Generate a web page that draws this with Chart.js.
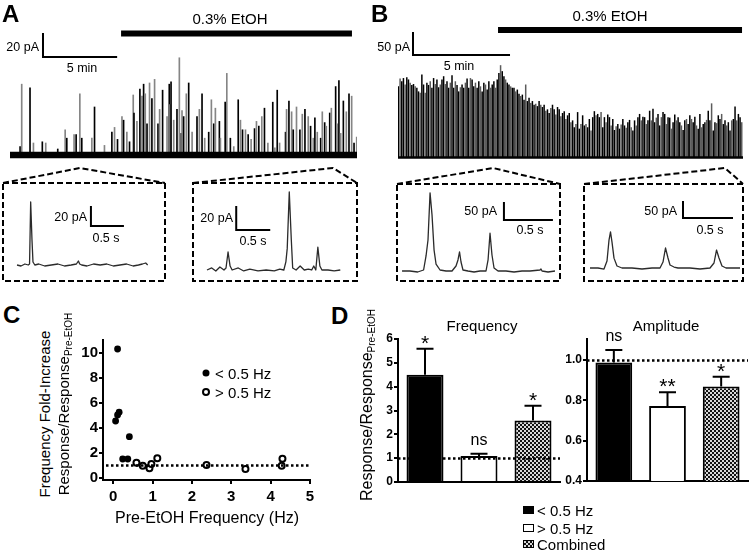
<!DOCTYPE html>
<html>
<head>
<meta charset="utf-8">
<title>EtOH sEPSC figure</title>
<script src="https://cdn.jsdelivr.net/npm/chart.js@4.4.1/dist/chart.umd.min.js"></script>
<style>
  html, body { margin: 0; padding: 0; background: #fff; }
  #fig { position: relative; width: 750px; height: 550px; overflow: hidden;
         font-family: "Liberation Sans", Arial, Helvetica, sans-serif; color: #000; }
  canvas { position: absolute; display: block; }
  svg { position: absolute; left: 0; top: 0; }
  .t { position: absolute; white-space: nowrap; line-height: 1; color: #000; }
  .c { transform: translate(-50%, -50%); }
  .l { transform: translate(0, -50%); }
  .r { transform: translate(-100%, -50%); }
  .v { width: 220px; height: 16px; margin-left: -110px; margin-top: -8px;
       text-align: center; transform: rotate(-90deg); }
  .pl { font-weight: bold; font-size: 24px; }
  .s12 { font-size: 12.5px; }
  .s15 { font-size: 15px; }
  .s16 { font-size: 16px; }
  sub { font-size: 10px; vertical-align: -3px; }
  .chk { background: repeating-conic-gradient(#111 0 25%, #d8d8d8 0 50%) 0 0 / 4px 4px; }
</style>
</head>
<body>
<div id="fig">
  <!-- zoom boxes + connectors -->
  <svg width="750" height="550">
    <g fill="none" stroke="#000" stroke-width="2" stroke-dasharray="6 3">
      <polyline points="3,183 80,168 165,183"/>
      <polyline points="193,183 333,168 357,183"/>
      <polyline points="397,184 493,168 560,184"/>
      <polyline points="584,184 725,168 743,184"/>
      <rect x="3" y="183" width="162" height="98"/>
      <rect x="193" y="183" width="164" height="98"/>
      <rect x="397" y="184" width="163" height="97"/>
      <rect x="584" y="184" width="159" height="97"/>
    </g>
  </svg>

  <canvas id="traceA" width="347" height="135" style="left:10px;top:25px"></canvas>
  <canvas id="traceB" width="345" height="140" style="left:398px;top:22px"></canvas>
  <canvas id="insA1" width="158" height="95" style="left:5px;top:185px"></canvas>
  <canvas id="insA2" width="161" height="95" style="left:195px;top:185px"></canvas>
  <canvas id="insB1" width="160" height="94" style="left:399px;top:186px"></canvas>
  <canvas id="insB2" width="156" height="94" style="left:586px;top:186px"></canvas>
  <canvas id="scatC" width="265" height="185" style="left:60px;top:330px"></canvas>
  <canvas id="barFreq" width="205" height="170" style="left:360px;top:330px"></canvas>
  <canvas id="barAmp" width="198" height="170" style="left:552px;top:330px"></canvas>

  <!-- panel letters -->
  <div class="t l pl" style="left:2px;top:14px">A</div>
  <div class="t l pl" style="left:371px;top:14px">B</div>
  <div class="t l pl" style="left:3px;top:315px">C</div>
  <div class="t l pl" style="left:331px;top:316px">D</div>

  <!-- A / B trace labels -->
  <div class="t c s15" style="left:230px;top:18px">0.3% EtOH</div>
  <div class="t r s12" style="left:39px;top:47px">20 pA</div>
  <div class="t c s12" style="left:82px;top:68px">5 min</div>
  <div class="t c s15" style="left:610px;top:15px">0.3% EtOH</div>
  <div class="t r s12" style="left:410px;top:47px">50 pA</div>
  <div class="t c s12" style="left:459px;top:66px">5 min</div>

  <!-- inset labels -->
  <div class="t r s12" style="left:87px;top:217px">20 pA</div>
  <div class="t c s12" style="left:106px;top:238px">0.5 s</div>
  <div class="t r s12" style="left:233px;top:218px">20 pA</div>
  <div class="t c s12" style="left:253px;top:241px">0.5 s</div>
  <div class="t r s12" style="left:497px;top:211px">50 pA</div>
  <div class="t c s12" style="left:530px;top:230px">0.5 s</div>
  <div class="t r s12" style="left:677px;top:211px">50 pA</div>
  <div class="t c s12" style="left:710px;top:230px">0.5 s</div>

  <!-- C text -->
  <div class="t v s15" style="left:45px;top:414px">Frequency Fold-Increase</div>
  <div class="t v s15" style="left:64px;top:404px">Response/Response<sub>Pre-EtOH</sub></div>
  <div class="t c s16" style="left:207px;top:518px">Pre-EtOH Frequency (Hz)</div>
  <div class="t c" style="left:206px;top:373px;width:7px;height:7px;border-radius:50%;background:#000"></div>
  <div class="t l s15" style="left:215px;top:373px">&lt; 0.5 Hz</div>
  <div class="t c" style="left:206px;top:392px;width:8px;height:8px;border-radius:50%;border:2px solid #000;box-sizing:border-box;background:#fff"></div>
  <div class="t l s15" style="left:215px;top:392px">&gt; 0.5 Hz</div>

  <!-- D text -->
  <div class="t v s16" style="left:367px;top:405px">Response/Response<sub>Pre-EtOH</sub></div>
  <div class="t c s15" style="left:482px;top:325px">Frequency</div>
  <div class="t c s15" style="left:666px;top:325px">Amplitude</div>
  <div class="t" style="left:523px;top:506px;width:11px;height:8px;background:#000"></div>
  <div class="t l s15" style="left:537px;top:510px">&lt; 0.5 Hz</div>
  <div class="t" style="left:523px;top:524px;width:11px;height:8px;border:1.5px solid #000;box-sizing:border-box;background:#fff"></div>
  <div class="t l s15" style="left:537px;top:528px">&gt; 0.5 Hz</div>
  <div class="t chk" style="left:523px;top:540px;width:11px;height:8px;border:1px solid #000;box-sizing:border-box"></div>
  <div class="t l s15" style="left:537px;top:543.5px">Combined</div>
</div>

<script>
// ── Data ──────────────────────────────────────────────────

// A: spontaneous events, time (min) and peak (pA)
const spikeTimesA = [0.68,0.79,1.35,1.58,2.18,2.41,3.22,3.72,3.83,4.32,
  4.46,4.71,4.84,5.52,5.70,6.37,6.87,7.05,7.25,7.55,
  7.66,7.88,8.06,8.31,8.36,8.56,8.76,8.90,9.01,9.12,
  9.24,9.41,9.57,9.75,9.98,10.09,10.29,10.59,10.74,10.79,
  10.86,11.04,11.26,11.42,11.55,11.60,11.71,11.89,12.05,12.28,
  12.61,12.77,12.95,13.13,13.40,13.58,13.74,13.85,14.12,14.19,
  14.51,14.62,14.86,15.09,15.39,15.54,15.68,15.88,16.06,16.26,
  16.49,16.62,16.78,16.98,17.16,17.39,17.72,17.86,18.02,18.18,
  18.58,18.65,18.81,18.99,19.10,19.32,19.55,19.71,19.89,20.11,
  20.27,20.45,20.56,20.72,20.95,21.06,21.22,21.33,21.56,21.67,
  21.96,22.07,22.18,22.30,22.48,22.68,22.86,23.04,23.20,23.38];
const spikeAmpsA = [7,59,56,10,11,10,5,21,14,17,
  17,51,14,14,40,8,19,23,13,32,
  29,19,11,50,35,28,55,49,59,51,
  26,60,47,63,26,38,54,32,59,42,
  61,29,38,81,18,37,32,51,60,19,
  32,38,51,14,19,46,26,39,28,14,
  44,68,14,7,46,29,21,21,17,13,
  22,28,24,32,39,10,44,6,54,10,
  19,38,45,36,21,40,21,34,38,32,
  24,14,31,19,14,36,27,24,35,39,
  57,26,62,18,45,36,51,49,10,15];

// B: event peaks in recording order (pA)
const spikeAmpsB = [154,171,165,172,158,174,169,162,157,159,
  154,151,143,140,180,158,140,162,157,165,
  151,172,159,169,152,158,169,176,159,165,
  151,162,178,151,165,157,143,152,158,151,
  162,171,151,172,169,154,162,151,165,154,
  143,162,158,147,165,151,158,165,151,169,
  183,200,187,176,169,162,158,154,151,151,
  143,147,138,133,136,125,158,122,129,118,
  122,114,116,111,122,114,109,114,101,104,
  96,107,114,104,93,109,104,89,96,100,
  83,91,96,76,80,65,72,98,62,72,
  91,69,72,65,83,58,87,100,91,94,
  87,98,65,87,76,93,87,69,83,59,
  67,72,62,71,83,69,64,76,81,65,
  58,80,69,87,94,80,88,87,72,80,
  101,80,105,76,86,94,69,87,98,94,
  72,87,86,62,76,93,80,87,76,69,
  59,80,83,72,91,83,76,88,69,62,
  94,65,72,76,81,101,80,117,58,76,
  74,91,83,94,72,80,69,76,58,80,
  83,110,80,94,87,76];

// insets: time (s) and current (pA)
const insA1Time = [0,0.06,0.12,0.17,0.19,0.207,0.227,0.242,0.27,0.33,0.42,0.52,0.62,0.72,0.82,0.9,0.93,0.95,0.98,1.06,1.16,1.26,1.36,1.46,1.56,1.66,1.76,1.84,1.9,1.95,1.98];
const insA1Amp  = [0,-1,1,0,1,63,25,3,0,1,-1,0,1,-1,0,1,4,1,0,-1,1,0,1,-1,0,1,-1,0,1,2,0];
const insA2Time = [0,0.07,0.13,0.19,0.25,0.28,0.31,0.34,0.37,0.46,0.54,0.63,0.75,0.87,0.99,1.07,1.13,1.16,1.18,1.21,1.24,1.26,1.31,1.37,1.43,1.49,1.54,1.57,1.6,1.63,1.66,1.69,1.78,1.87,1.96];
const insA2Amp  = [0,1.7,-0.8,2.5,0,1.7,15,3.3,0,1.7,-0.8,0.8,-0.8,0,-0.8,0.8,0,6.7,18,65,25,1.7,0,3.3,0,0.8,0,3.3,0,19,3.3,0,0,-0.8,0];
const insB1Time = [0,0.08,0.16,0.22,0.245,0.265,0.286,0.306,0.327,0.347,0.388,0.449,0.51,0.551,0.571,0.587,0.602,0.622,0.673,0.735,0.796,0.857,0.878,0.898,0.918,0.939,0.98,1.061,1.143,1.224,1.306,1.408,1.418,1.429,1.49,1.561];
const insB1Amp  = [0,0,-2.8,2.8,41.7,86,217,156,58,19.4,2.8,0,0,13.9,30.6,52.8,25,2.8,0,-2.8,0,0,30.6,105,44.4,8.3,0,0,-2.8,0,0,2.8,5.6,0,-2.8,0];
const insB2Time = [0,0.08,0.14,0.17,0.19,0.205,0.22,0.24,0.27,0.32,0.42,0.52,0.62,0.7,0.73,0.755,0.78,0.8,0.84,0.88,0.92,1.0,1.1,1.2,1.24,1.265,1.29,1.32,1.36,1.44,1.5];
const insB2Amp  = [0,0,-3,20.6,82,106,76,29,5.9,0,0,-3,0,0,17.6,58.8,29.4,8.8,2.9,0,0,0,-3,0,14.7,52.9,29.4,5.9,0,0,0];

// C: fold-increase vs pre-EtOH frequency
const lowFreqX  = [0.11,0.06,0.11,0.15,0.41,0.24,0.37];
const lowFreqY  = [10.34,4.58,5.06,5.28,3.33,1.54,1.54];
const highFreqX = [0.59,0.75,0.92,0.97,1.12,2.37,3.36,4.28,4.30];
const highFreqY = [1.25,1.01,0.80,1.14,1.60,1.06,0.74,1.01,1.57];
const cXTicks = [0,1,2,3,4,5];
const cYTicks = [0,2,4,6,8,10];

// D: group means ± SEM
const groups   = ['< 0.5 Hz', '> 0.5 Hz', 'Combined'];
const freqMean = [4.5, 1.09, 2.58];
const freqSem  = [1.09, 0.10, 0.62];
const freqSig  = ['*', 'ns', '*'];
const ampMean  = [0.988, 0.772, 0.868];
const ampSem   = [0.061, 0.068, 0.049];
const ampSig   = ['ns', '**', '*'];
const freqTicks = [0,1,2,3,4,5,6];
const ampTicks  = [0.4,0.6,0.8,1.0];

// ── Helpers ───────────────────────────────────────────────

const FONT = '"Liberation Sans", Arial, Helvetica, sans-serif';
Chart.defaults.font.family = FONT;
Chart.defaults.color = '#000';

const base = extra => Object.assign({
  responsive: false, animation: false, devicePixelRatio: 1, events: [],
  layout: { padding: 0 },
  plugins: { legend: { display: false }, tooltip: { enabled: false } }
}, extra);

const hid = (min, max, more) => Object.assign({ type: 'linear', display: false, offset: false, min, max }, more || {});

const lineDs = (pts, width, more) => Object.assign({
  type: 'line', data: pts, borderColor: '#000', borderWidth: width,
  pointRadius: 0, borderCapStyle: 'butt', borderJoinStyle: 'miter', tension: 0
}, more || {});

// L-shaped calibration bar: vertical dy, horizontal dt
const calBar = (b, more) => lineDs([
  { x: b.t, y: b.y + b.dy }, { x: b.t, y: b.y }, { x: b.t + b.dt, y: b.y }
], 2, more);

// error bars, significance marks, dotted reference line
const annotate = {
  id: 'annotate',
  afterDatasetsDraw(chart, args, o) {
    const { ctx, chartArea: a, scales: { y } } = chart;
    ctx.save();
    ctx.strokeStyle = '#000';
    if (o.refLine != null) {
      const py = Math.round(y.getPixelForValue(o.refLine)) + 0.5;
      ctx.lineWidth = 2.5;
      ctx.setLineDash([2.5, 2.5]);
      ctx.beginPath(); ctx.moveTo(a.left + (o.inset || 0), py); ctx.lineTo(a.right, py); ctx.stroke();
      ctx.setLineDash([]);
    }
    if (o.sem) {
      const vals = chart.data.datasets[0].data;
      chart.getDatasetMeta(0).data.forEach((bar, i) => {
        const top = y.getPixelForValue(vals[i] + o.sem[i]);
        ctx.lineWidth = 2;
        ctx.beginPath();
        ctx.moveTo(bar.x, bar.y); ctx.lineTo(bar.x, top);
        ctx.moveTo(bar.x - 8.5, top); ctx.lineTo(bar.x + 8.5, top);
        ctx.stroke();
        ctx.fillStyle = '#000';
        ctx.textAlign = 'center';
        ctx.textBaseline = 'alphabetic';
        const ns = o.sig[i] === 'ns';
        ctx.font = (ns ? '16px ' : '21px ') + FONT;
        ctx.fillText(o.sig[i], bar.x, top - (ns ? 9 : -1));
      });
    }
    ctx.restore();
  }
};

// ── A: long trace ─────────────────────────────────────────

const viewA = { t1: 23.4, v0: -4.17, v1: 108.3 };
new Chart(document.getElementById('traceA'), {
  type: 'bar',
  data: {
    datasets: [
      { data: spikeTimesA.map((t, i) => ({ x: t, y: spikeAmpsA[i] })),
        backgroundColor: spikeTimesA.map((_, i) => i % 2 ? '#858585' : '#000'),
        barThickness: 1, order: 1 },
      lineDs([{ x: 0, y: 0 }, { x: viewA.t1, y: 0 }], 6.5, { order: 0 }),
      calBar({ t: 2.225, y: 81.7, dt: 5, dy: 20 }),
      lineDs([{ x: 7.49, y: 101.25 }, { x: 23.06, y: 101.25 }], 6)
    ]
  },
  options: base({
    scales: { x: hid(0, viewA.t1), y: hid(viewA.v0, viewA.v1) }
  })
});

// ── B: long trace ─────────────────────────────────────────

new Chart(document.getElementById('traceB'), {
  type: 'bar',
  data: {
    labels: spikeAmpsB.map((_, i) => String(i)),
    datasets: [
      { data: spikeAmpsB,
        backgroundColor: spikeAmpsB.map((_, i) => i % 3 === 1 ? '#5c5c5c' : '#000'),
        barPercentage: 1, categoryPercentage: 1, order: 1 },
      lineDs([{ x: 0, y: 0 }, { x: 17.78, y: 0 }], 2.5, { xAxisID: 'xt', order: 0 }),
      calBar({ t: 0.773, y: 222.8, dt: 5, dy: 50 }, { xAxisID: 'xt' }),
      lineDs([{ x: 5.155, y: 277.2 }, { x: 17.73, y: 277.2 }], 6, { xAxisID: 'xt' })
    ]
  },
  options: base({
    scales: {
      x: { type: 'category', display: false },
      xt: hid(0, 17.78, { position: 'bottom', grid: { offset: false } }),
      y: hid(-9.8, 294.6)
    }
  })
});

// ── Insets ────────────────────────────────────────────────

function insetChart(id, time, amp, view, bar) {
  new Chart(document.getElementById(id), {
    type: 'line',
    data: {
      datasets: [
        lineDs(time.map((t, i) => ({ x: t, y: amp[i] })), 1.3, { borderColor: '#2b2b2b', borderJoinStyle: 'round' }),
        calBar(bar)
      ]
    },
    options: base({ scales: { x: hid(view.t0, view.t1), y: hid(view.v0, view.v1) } })
  });
}

insetChart('insA1', insA1Time, insA1Amp, { t0: -0.182, t1: 2.212, v0: -15, v1: 80 },    { t: 1.12, y: 39,    dt: 0.5, dy: 20 });
insetChart('insA2', insA2Time, insA2Amp, { t0: -0.176, t1: 2.191, v0: -8.33, v1: 70.8 }, { t: 0.43, y: 33.3,  dt: 0.5, dy: 20 });
insetChart('insB1', insB1Time, insB1Amp, { t0: -0.031, t1: 1.602, v0: -25, v1: 236.1 }, { t: 1.04, y: 141.7, dt: 0.5, dy: 50 });
insetChart('insB2', insB2Time, insB2Amp, { t0: -0.04, t1: 1.52, v0: -35.3, v1: 241.2 },  { t: 0.93, y: 147,   dt: 0.5, dy: 50 });

// ── C: scatter ────────────────────────────────────────────

const axisStyle = (size, tickLen, pad) => ({
  grid: { display: true, drawOnChartArea: false, drawTicks: true, tickLength: tickLen, color: '#000', lineWidth: 2 },
  border: { display: true, color: '#000', width: 2 },
  ticks: { font: { size, weight: 'bold' }, color: '#000', padding: pad, maxRotation: 0 }
});

new Chart(document.getElementById('scatC'), {
  type: 'scatter',
  data: {
    datasets: [
      { data: lowFreqX.map((x, i) => ({ x, y: lowFreqY[i] })),
        pointRadius: 3.4, pointBackgroundColor: '#000', pointBorderColor: '#000', pointBorderWidth: 0 },
      { data: highFreqX.map((x, i) => ({ x, y: highFreqY[i] })),
        pointRadius: 3, pointBackgroundColor: '#fff', pointBorderColor: '#000', pointBorderWidth: 2 }
    ]
  },
  options: base({
    layout: { padding: { top: 10, right: 15, left: 0, bottom: 0 } },
    plugins: { legend: { display: false }, tooltip: { enabled: false }, annotate: { refLine: 1.1, inset: 3 } },
    scales: {
      x: Object.assign({ type: 'linear', min: -0.26, max: 5,
        afterBuildTicks: s => { s.ticks = cXTicks.map(v => ({ value: v })); },
        afterFit: s => { s.height = 35; } }, axisStyle(15, 4, 4)),
      y: Object.assign({ type: 'linear', min: -0.14, max: 11.06,
        afterBuildTicks: s => { s.ticks = cYTicks.map(v => ({ value: v })); },
        afterFit: s => { s.width = 43; } }, axisStyle(15, 4, 1))
    }
  }),
  plugins: [annotate]
});

// ── D: bars ───────────────────────────────────────────────

function checker() {
  const c = document.createElement('canvas');
  c.width = c.height = 4;
  const g = c.getContext('2d');
  g.fillStyle = '#111'; g.fillRect(0, 0, 4, 4);
  g.fillStyle = '#d8d8d8'; g.fillRect(0, 0, 2, 2); g.fillRect(2, 2, 2, 2);
  return g.createPattern(c, 'repeat');
}
const fills = ['#000', '#fff', checker()];

function groupBars(id, mean, sem, sig, ticks, yMin, yMax, ref, yWidth, xHeight, padR, fmt) {
  const yAxis = Object.assign({ type: 'linear', min: yMin, max: yMax,
    afterBuildTicks: s => { s.ticks = ticks.map(v => ({ value: v })); },
    afterFit: s => { s.width = yWidth; } }, axisStyle(12, 4, 1));
  yAxis.ticks.callback = fmt;
  new Chart(document.getElementById(id), {
    type: 'bar',
    data: {
      labels: groups,
      datasets: [{ data: mean, backgroundColor: fills, borderColor: '#000', borderWidth: 2,
                   barPercentage: 0.685, categoryPercentage: 1 }]
    },
    options: base({
      layout: { padding: { top: 9, right: padR, left: 0, bottom: 0 } },
      plugins: { legend: { display: false }, tooltip: { enabled: false },
                 annotate: { sem, sig, refLine: ref } },
      scales: {
        x: { type: 'category', grid: { display: false },
             border: { display: true, color: '#000', width: 2 },
             ticks: { display: false }, afterFit: s => { s.height = xHeight; } },
        y: yAxis
      }
    }),
    plugins: [annotate]
  });
}

groupBars('barFreq', freqMean, freqSem, freqSig, freqTicks, 0, 6, 1, 38, 18, 5, v => String(v));
groupBars('barAmp', ampMean, ampSem, ampSig, ampTicks, 0.4, 1.104, 1, 35, 19, 2, v => v.toFixed(1));
</script>
</body>
</html>
